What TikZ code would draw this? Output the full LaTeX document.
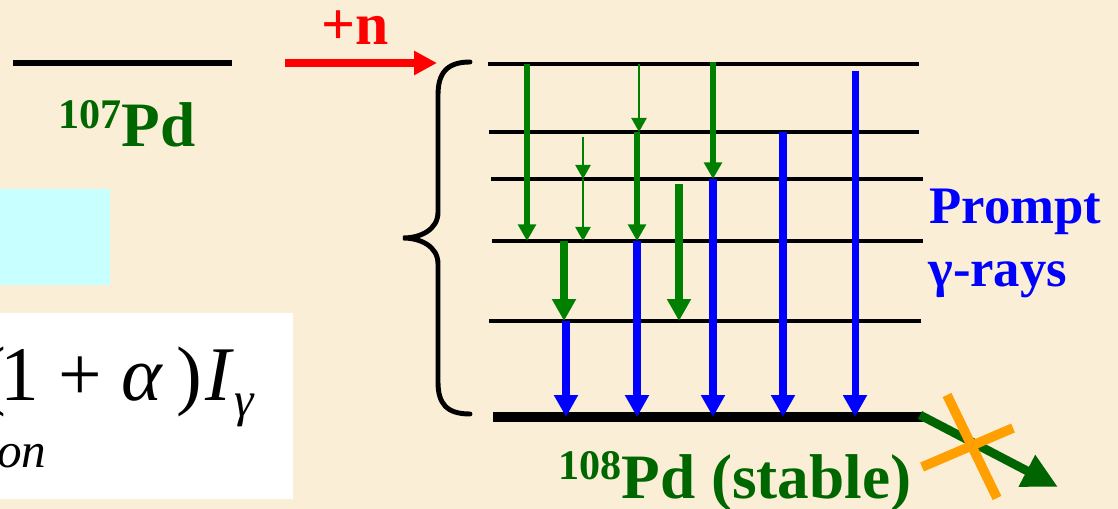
\documentclass[tikz,border=0pt]{standalone}
\usepackage{fontspec}
\setmainfont{Liberation Serif}
\usetikzlibrary{arrows.meta}
\definecolor{bgpaper}{HTML}{FAEFD6}
\definecolor{boxcyan}{HTML}{C8FFFF}
\definecolor{cascgreen}{HTML}{008000}
\definecolor{labelgreen}{HTML}{006600}
\definecolor{decaygreen}{HTML}{006400}
\definecolor{crossorange}{HTML}{FFA000}
\tikzset{
  level/.style={line width=2.8pt, black},
  ground/.style={line width=6pt, black},
  thinray/.style={-{Triangle[length=8pt, width=8.5pt]}, line width=1.5pt, cascgreen},
  greenray/.style={-{Triangle[length=9.5pt, width=10pt]}, line width=3.4pt, cascgreen},
  wideray/.style={-{Triangle[length=12.5pt, width=13pt]}, line width=4pt, cascgreen},
  blueray/.style={-{Triangle[length=12.5pt, width=13pt]}, line width=4pt, blue},
  nray/.style={-{Triangle[length=13pt, width=13pt]}, line width=4pt, red},
  decayray/.style={-{Triangle[length=20pt, width=19pt]}, line width=5pt, decaygreen},
  crossline/.style={line width=5.5pt, crossorange},
  biglabel/.style={font=\fontsize{36}{40}\selectfont\bfseries, text=labelgreen, inner sep=0pt},
  raylabel/.style={font=\fontsize{30}{34}\selectfont\bfseries, text=blue, inner sep=0pt},
  formula/.style={font=\fontsize{44}{48}\selectfont, inner sep=0pt},
}

\begin{document}
\begin{tikzpicture}[x=0.02cm, y=-0.02cm]
    \useasboundingbox (0,0) rectangle (1118,509);
    \fill[bgpaper] (0,0) rectangle (1118,509);
    % left part
    \fill[boxcyan] (0,189) rectangle (110,285);
    \fill[white] (0,313) rectangle (293,499);
    \begin{scope}
      \clip (0,313) rectangle (293,499);
      \node[formula, anchor=base west] (sigma) at (-20,400)
        {(\kern-3pt 1 + \textit{α}\,)\hspace{2pt}\textit{I}\raisebox{-9.6pt}{\fontsize{28}{28}\selectfont\textit{γ}}};
      \node[formula, font=\fontsize{28}{30}\selectfont\itshape, anchor=base west] (onword) at (-3,467) {on};
    \end{scope}
    \draw[line width=3.4pt] (13,63) -- (232,63);
    \node[biglabel, anchor=base west] (pd107) at (58,147)
      {\raisebox{10.8pt}{\fontsize{24}{24}\selectfont 107}Pd};
    % neutron capture
    \coordinate (nstart) at (285,63);
    \coordinate (nend) at (437,63);
    \draw[nray] (nstart) -- (nend);
    \node[font=\fontsize{34}{36}\selectfont\bfseries, text=red, inner sep=0pt, anchor=base] (plusn) at (355,45) {+n};
    \draw[line width=2.8pt, line cap=round] (470,62) .. controls (446,62) and (438,74) .. (438,95)
      -- (438,212) .. controls (438,230) and (420,238) .. (403,238)
      .. controls (420,238) and (438,246) .. (438,264) -- (438,382)
      .. controls (438,403) and (446,414) .. (470,414);
    % levels of 108Pd
    \foreach \n/\y/\a/\b in {1/64/488/919, 2/132/489/919, 3/179/491/923, 4/241/492/923, 5/321/489/921} {
      \coordinate (lv\n) at (0,\y);
      \draw[level] (\a,\y) -- (\b,\y);
    }
    \coordinate (lv0) at (0,417);
    \coordinate (gsend) at (923,417);
    \draw[ground] (493,417) -- (gsend);
    % green cascade
    \draw[greenray] (527,0 |- lv1) -- (527,0 |- lv4);
    \draw[thinray] (583,137) -- (583,0 |- lv3);
    \draw[thinray] (583,0 |- lv3) -- (583,0 |- lv4);
    \draw[thinray] (639,0 |- lv1) -- (639,0 |- lv2);
    \draw[greenray] (637,0 |- lv2) -- (637,0 |- lv4);
    \draw[wideray] (564,0 |- lv4) -- (564,0 |- lv5);
    \draw[wideray] (679,184) -- (679,0 |- lv5);
    \draw[greenray] (713,62) -- (713,0 |- lv3);
    % prompt gammas to ground
    \draw[blueray] (566,0 |- lv5) -- (566,0 |- lv0);
    \draw[blueray] (637,0 |- lv4) -- (637,0 |- lv0);
    \draw[blueray] (713,0 |- lv3) -- (713,0 |- lv0);
    \draw[blueray] (783,0 |- lv2) -- (783,0 |- lv0);
    \draw[blueray] (855,71) -- (855,0 |- lv0);
    \node[raylabel, anchor=base west] (prompt) at (929,224) {Prompt};
    \node[raylabel, anchor=base west] (gammarays) at (928,287) {γ-rays};
    \node[biglabel, anchor=base west] (pd108) at (558,498)
      {\raisebox{10.8pt}{\fontsize{24}{24}\selectfont 108}Pd (stable)};
    % no decay
    \coordinate (decayend) at (1058,487);
    \draw[decayray] (920,415) -- (decayend);
    \draw[crossline] (947,395) -- (997,498);
    \draw[crossline] (922,467) -- (1013,428);
\end{tikzpicture}
\end{document}
